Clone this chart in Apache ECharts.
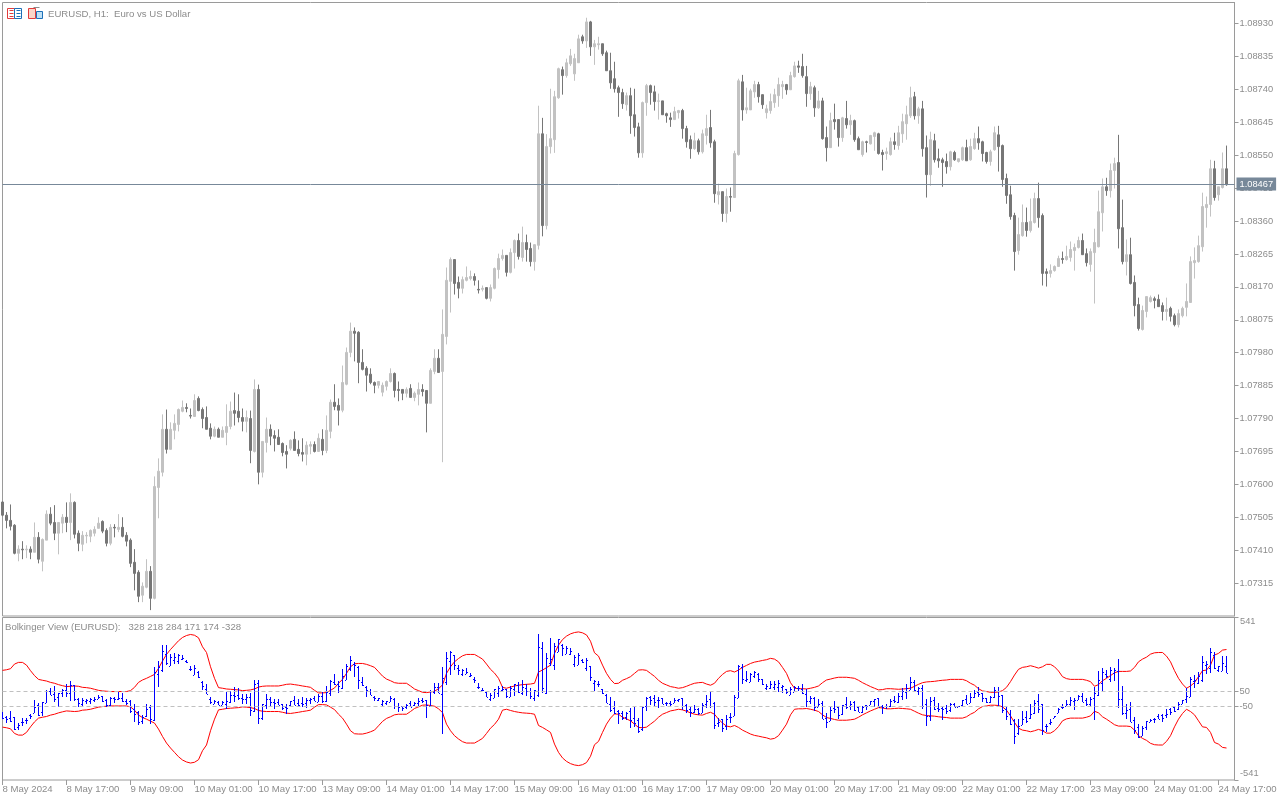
<!DOCTYPE html>
<html><head><meta charset="utf-8"><style>html,body{margin:0;padding:0;background:#fff}#c{width:1280px;height:800px}</style>
<script src="https://cdn.jsdelivr.net/npm/echarts@6/dist/echarts.min.js"></script></head>
<body><div id="c"></div>
<script>
// Prices are stored as points: 7511 means 1.07511
const opens=[7549,7511,7496,7482,7401,7413,7411,7413,7404,7447,
7378,7439,7514,7490,7459,7488,7505,7490,7548,7459,
7427,7451,7450,7459,7473,7493,7467,7430,7476,7470,
7476,7453,7439,7375,7346,7280,7303,7349,7271,7591,
7635,7759,7701,7756,7773,7811,7822,7799,7796,7848,
7816,7793,7762,7739,7759,7736,7750,7767,7813,7811,
7793,7782,7790,7695,7874,7635,7721,7759,7741,7736,
7718,7695,7704,7730,7701,7692,7687,7710,7715,7695,
7730,7698,7753,7837,7828,7814,7889,7981,8042,8039,
7952,7935,7918,7894,7886,7866,7883,7897,7920,7874,
7874,7863,7877,7851,7860,7874,7871,7834,7926,7964,
7926,8027,8186,8249,8183,8166,8189,8194,8200,8163,
8163,8168,8137,8166,8220,8252,8261,8212,8269,8304,
8255,8298,8281,8243,8290,8612,8347,8575,8595,8716,
8797,8780,8814,8785,8817,8892,8880,8935,8863,8869,
8872,8846,8794,8771,8745,8731,8696,8722,8667,8632,
8557,8702,8751,8733,8706,8707,8670,8658,8653,8673,
8679,8627,8595,8569,8592,8560,8607,8630,8589,8436,
8445,8382,8431,8428,8552,8762,8681,8681,8733,8754,
8725,8673,8679,8702,8722,8748,8754,8739,8777,8808,
8806,8777,8728,8745,8687,8707,8601,8572,8653,8653,
8601,8656,8638,8650,8598,8552,8589,8583,8604,8612,
8558,8555,8552,8589,8578,8612,8641,8664,8719,8664,
8684,8572,8494,8592,8540,8537,8532,8517,8558,8532,
8537,8572,8537,8569,8598,8589,8558,8532,8566,8609,
8578,8483,8436,8376,8275,8318,8356,8333,8356,8425,
8376,8214,8209,8217,8229,8252,8249,8255,8275,8284,
8304,8266,8235,8269,8286,8384,8459,8448,8506,8529,
8341,8243,8263,8183,8119,8047,8099,8128,8136,8134,
8116,8099,8108,8087,8061,8087,8111,8125,8240,8243,
8286,8399,8408,8511,8436,8457,8511];
const highs=[7551,7520,7542,7485,7424,7436,7424,7421,7490,7462,
7444,7525,7534,7540,7490,7514,7548,7574,7551,7467,
7465,7462,7470,7479,7505,7496,7473,7485,7485,7514,
7505,7462,7444,7413,7352,7317,7384,7364,7623,7675,
7802,7816,7779,7802,7819,7842,7834,7819,7860,7854,
7822,7825,7776,7767,7764,7767,7831,7839,7865,7860,
7819,7813,7813,7903,7888,7724,7793,7773,7756,7759,
7721,7713,7730,7753,7727,7733,7724,7724,7724,7747,
7759,7799,7845,7889,7848,7943,7995,8067,8053,8042,
7990,7941,7935,7897,7897,7894,7900,7935,7923,7897,
7874,7880,7889,7868,7894,7889,7871,7935,7990,7990,
8105,8226,8255,8249,8200,8200,8229,8217,8209,8189,
8174,8168,8177,8226,8266,8278,8261,8281,8307,8324,
8344,8321,8298,8292,8693,8658,8611,8742,8736,8803,
8806,8829,8857,8843,8898,8898,8947,8938,8883,8892,
8872,8852,8846,8820,8751,8742,8731,8745,8742,8644,
8705,8756,8754,8751,8728,8707,8673,8673,8690,8681,
8684,8635,8607,8615,8598,8624,8667,8681,8595,8468,
8445,8454,8457,8563,8771,8782,8745,8742,8765,8762,
8725,8696,8728,8742,8774,8765,8756,8791,8820,8823,
8843,8808,8762,8751,8736,8716,8633,8673,8699,8653,
8661,8707,8667,8653,8604,8592,8592,8609,8618,8615,
8566,8572,8601,8615,8635,8670,8693,8748,8733,8690,
8707,8607,8618,8612,8569,8543,8555,8563,8563,8540,
8575,8595,8598,8615,8633,8592,8560,8566,8633,8635,
8581,8497,8462,8384,8370,8408,8399,8425,8442,8471,
8382,8223,8235,8232,8260,8272,8289,8301,8295,8315,
8324,8281,8281,8338,8448,8483,8485,8526,8543,8609,
8422,8307,8312,8203,8139,8116,8142,8145,8142,8148,
8125,8139,8113,8093,8105,8113,8180,8258,8284,8318,
8442,8431,8537,8534,8459,8558,8578];
const lows=[7508,7473,7467,7398,7378,7384,7387,7384,7404,7372,
7349,7439,7482,7439,7398,7459,7462,7439,7444,7407,
7407,7430,7433,7450,7473,7459,7421,7424,7447,7462,
7447,7421,7361,7294,7260,7260,7300,7237,7268,7502,
7623,7689,7701,7730,7753,7808,7808,7790,7796,7811,
7762,7759,7730,7736,7736,7736,7713,7759,7770,7779,
7753,7750,7661,7692,7600,7620,7692,7713,7695,7715,
7681,7646,7698,7698,7681,7666,7655,7687,7692,7695,
7684,7690,7733,7814,7770,7808,7886,7967,7955,7892,
7929,7868,7889,7863,7877,7854,7871,7894,7851,7840,
7843,7851,7851,7840,7828,7854,7750,7834,7918,7923,
7664,8004,8096,8148,8137,8151,8186,8189,8174,8151,
8157,8134,8128,8163,8194,8246,8200,8209,8223,8249,
8243,8243,8229,8217,8278,8316,8336,8555,8557,8713,
8725,8774,8808,8765,8817,8872,8860,8837,8811,8855,
8837,8794,8742,8731,8661,8684,8679,8612,8604,8543,
8543,8664,8696,8679,8653,8667,8644,8632,8653,8656,
8598,8572,8540,8566,8552,8555,8581,8572,8413,8408,
8358,8356,8387,8428,8549,8650,8670,8681,8716,8702,
8684,8656,8670,8687,8690,8713,8725,8739,8774,8788,
8774,8690,8710,8661,8684,8595,8532,8572,8624,8575,
8589,8627,8609,8589,8566,8546,8558,8581,8563,8552,
8506,8537,8549,8566,8566,8586,8595,8658,8653,8641,
8546,8428,8462,8529,8514,8459,8497,8506,8534,8529,
8534,8534,8534,8566,8566,8532,8526,8520,8563,8503,
8459,8410,8364,8217,8263,8315,8315,8327,8353,8341,
8174,8171,8197,8214,8229,8237,8246,8243,8217,8281,
8263,8229,8214,8122,8284,8330,8433,8428,8454,8281,
8235,8203,8177,8085,8044,8044,8082,8125,8108,8113,
8073,8073,8070,8056,8053,8082,8085,8125,8194,8240,
8272,8341,8373,8419,8419,8454,8462];
const closes=[7511,7496,7479,7401,7413,7411,7413,7404,7447,7384,
7441,7514,7488,7459,7490,7505,7490,7548,7456,7430,
7453,7453,7467,7470,7488,7465,7430,7476,7474,7476,
7450,7436,7372,7343,7277,7306,7349,7271,7594,7638,
7759,7701,7759,7776,7816,7822,7819,7797,7842,7813,
7790,7759,7739,7759,7736,7756,7767,7811,7805,7793,
7782,7793,7698,7874,7635,7724,7759,7739,7733,7715,
7692,7687,7727,7698,7689,7687,7713,7715,7695,7733,
7698,7756,7837,7825,7814,7894,7981,8042,8036,7952,
7932,7915,7894,7886,7897,7886,7897,7920,7871,7871,
7863,7874,7851,7863,7874,7868,7834,7929,7964,7923,
8033,8189,8249,8180,8166,8191,8197,8200,8189,8161,
8166,8137,8168,8223,8252,8261,8212,8269,8304,8258,
8298,8278,8243,8292,8612,8347,8575,8598,8719,8800,
8780,8817,8837,8829,8886,8880,8935,8863,8872,8872,
8843,8794,8759,8742,8731,8699,8722,8664,8630,8557,
8702,8751,8731,8705,8707,8667,8664,8653,8676,8679,
8627,8589,8569,8592,8560,8612,8627,8586,8439,8445,
8382,8431,8429,8555,8765,8681,8687,8736,8754,8719,
8696,8684,8705,8725,8754,8754,8739,8780,8808,8804,
8780,8728,8748,8687,8707,8598,8572,8650,8647,8601,
8658,8638,8650,8595,8566,8589,8587,8607,8615,8555,
8552,8560,8589,8581,8615,8647,8667,8716,8664,8684,
8569,8494,8595,8537,8534,8529,8517,8560,8537,8540,
8572,8534,8575,8598,8586,8555,8532,8560,8615,8575,
8480,8434,8373,8272,8321,8356,8333,8359,8425,8370,
8209,8209,8217,8229,8252,8249,8258,8278,8284,8304,
8263,8240,8272,8298,8387,8459,8448,8506,8526,8338,
8243,8263,8180,8116,8050,8102,8142,8139,8131,8113,
8099,8105,8085,8061,8093,8108,8128,8243,8246,8289,
8402,8408,8511,8428,8459,8511,8465];
const viewOpen=[-91,-121,-128,-122,-187,-154,-142,-107,-96,-43,
-87,-26,54,32,9,38,56,36,90,0,
-34,-13,-18,-11,-4,15,-6,-42,3,-2,
8,-12,-14,-71,-89,-146,-116,-57,-143,167,
192,298,221,256,250,263,249,197,161,177,
113,63,0,-34,-20,-43,-33,-20,24,24,
8,-1,14,-83,108,-127,-41,-3,-19,-23,
-37,-54,-40,-7,-29,-31,-31,-9,8,-19,
18,-14,35,113,97,69,125,196,234,214,
110,80,51,14,-5,-37,-30,-21,-1,-51,
-49,-53,-26,-40,-26,-8,-6,-45,42,78,
30,112,249,291,206,167,168,150,134,78,
58,43,-4,8,40,57,64,14,63,91,
35,73,53,8,25,335,41,240,227,312,
358,301,297,233,223,259,203,217,106,95,
65,24,-38,-63,-84,-93,-122,-84,-126,-139,
-202,-45,13,6,-10,3,-25,-30,-31,-7,
3,-40,-65,-89,-66,-92,-37,-4,-27,-163,
-135,-182,-119,-113,5,211,124,113,154,164,
130,74,72,76,75,76,62,23,45,73,
64,33,-17,4,-53,-26,-125,-150,-64,-54,
-99,-38,-47,-21,-57,-90,-44,-40,-15,3,
-47,-50,-49,-7,-19,16,43,61,112,49,
70,-36,-113,-10,-60,-62,-64,-77,-33,-54,
-44,0,-26,11,46,38,5,-19,10,50,
22,-67,-102,-144,-230,-173,-122,-130,-96,-12,
-38,-179,-161,-127,-94,-55,-46,-34,-15,-5,
21,-10,-36,7,23,104,163,133,171,188,
1,-98,-71,-140,-187,-248,-190,-152,-133,-116,
-110,-105,-67,-57,-67,-32,1,11,117,104,
127,222,207,290,192,185,218];
const viewHigh=[-89,-112,-82,-119,-164,-131,-129,-99,-10,-28,
-21,60,74,82,40,64,99,120,93,8,
4,-2,2,9,28,18,0,13,12,42,
37,-3,-9,-33,-83,-109,-35,-42,209,251,
359,355,299,302,296,294,261,217,225,183,
119,95,14,-6,-15,-12,48,52,76,73,
34,30,37,125,122,-38,31,11,-4,0,
-34,-36,-14,16,-3,10,6,5,17,33,
47,87,127,165,117,198,231,282,245,217,
148,86,68,17,6,-9,-13,17,2,-28,
-49,-36,-14,-23,8,7,-6,56,106,104,
209,311,318,291,223,201,208,173,143,104,
69,43,36,68,86,83,64,83,101,111,
124,96,70,57,428,381,305,407,368,399,
367,350,340,291,304,265,270,220,126,118,
65,30,14,-14,-78,-82,-87,-61,-51,-127,
-54,9,16,24,12,3,-22,-15,6,1,
8,-32,-53,-43,-60,-28,23,47,-21,-131,
-135,-110,-93,22,224,231,188,174,186,172,
130,97,121,116,127,93,64,75,88,88,
101,64,17,10,-4,-17,-93,-49,-18,-54,
-39,13,-18,-18,-51,-50,-41,-14,-1,6,
-39,-33,0,19,38,74,95,145,126,75,
93,-1,11,10,-31,-56,-41,-31,-28,-46,
-6,23,35,57,81,41,7,15,77,76,
25,-53,-76,-136,-135,-83,-79,-38,-10,34,
-32,-170,-135,-112,-63,-35,-6,12,5,26,
41,5,10,76,185,203,189,211,208,268,
82,-34,-22,-120,-167,-179,-147,-135,-127,-102,
-101,-65,-62,-51,-23,-6,70,144,161,179,
283,254,336,313,215,286,284];
const viewLow=[-132,-159,-157,-206,-210,-183,-166,-136,-96,-118,
-116,-26,22,-19,-52,9,13,-15,-14,-52,
-54,-34,-35,-20,-4,-19,-52,-48,-26,-10,
-21,-44,-92,-152,-175,-166,-119,-169,-146,78,
180,228,221,230,230,260,235,188,161,140,
59,29,-32,-37,-43,-43,-70,-28,-19,-8,
-32,-33,-115,-86,-166,-142,-70,-49,-65,-44,
-74,-103,-46,-39,-49,-57,-63,-32,-15,-19,
-28,-22,15,90,39,63,122,182,147,67,
87,13,22,-17,-14,-49,-42,-24,-70,-85,
-80,-65,-52,-51,-58,-28,-127,-45,34,37,
-232,89,159,190,160,152,165,145,108,66,
52,9,-13,5,14,51,3,11,17,36,
23,18,1,-18,13,39,30,220,189,309,
286,295,291,213,223,239,183,119,54,81,
30,-28,-90,-103,-168,-140,-139,-194,-189,-228,
-216,-83,-42,-48,-63,-37,-51,-56,-31,-24,
-78,-95,-120,-92,-106,-97,-63,-62,-203,-191,
-222,-208,-163,-113,2,99,113,113,137,112,
89,57,63,61,43,41,33,23,42,53,
32,-54,-35,-80,-56,-138,-194,-150,-93,-132,
-111,-67,-76,-82,-89,-96,-75,-42,-56,-57,
-99,-68,-52,-30,-31,-10,-3,55,46,26,
-68,-180,-145,-73,-86,-140,-99,-88,-57,-57,
-47,-38,-29,8,14,-19,-27,-31,7,-56,
-97,-140,-174,-303,-242,-176,-163,-136,-99,-96,
-240,-222,-173,-130,-94,-70,-49,-46,-73,-8,
-20,-47,-57,-140,21,50,137,113,119,-60,
-105,-138,-157,-238,-262,-251,-207,-155,-161,-137,
-153,-131,-105,-88,-75,-37,-25,11,71,101,
113,164,172,198,175,182,171];
const viewClose=[-129,-136,-145,-203,-175,-156,-140,-116,-53,-106,
-24,49,28,1,40,55,41,94,-2,-29,
-8,-11,-1,0,11,-13,-43,4,1,4,
-18,-29,-81,-103,-158,-120,-70,-135,180,214,
316,240,279,276,293,274,246,195,207,142,
87,29,-23,-14,-43,-23,-16,24,16,6,
-3,10,-78,96,-131,-38,-3,-23,-27,-44,
-63,-62,-17,-39,-41,-36,-5,-4,-12,19,
-14,44,119,101,83,149,217,257,228,127,
90,60,27,6,6,-17,-16,2,-50,-54,
-60,-42,-52,-28,-12,-14,-43,50,80,37,
137,274,312,222,189,192,176,156,123,76,
61,12,27,65,72,66,15,71,98,45,
78,53,15,57,347,70,269,263,351,396,
341,338,320,277,292,247,258,145,115,98,
36,-28,-73,-92,-98,-125,-96,-142,-163,-214,
-57,4,-7,-22,-9,-37,-31,-35,-8,-1,
-49,-78,-91,-66,-98,-40,-17,-48,-177,-154,
-198,-133,-121,14,218,130,130,168,175,129,
101,85,98,99,107,82,47,64,76,69,
38,-16,3,-54,-33,-135,-154,-72,-70,-106,
-42,-56,-35,-76,-89,-53,-46,-16,-4,-54,
-53,-45,-12,-15,18,51,69,113,57,69,
-45,-114,-12,-65,-66,-70,-79,-34,-54,-46,
-9,-38,12,40,34,4,-21,9,59,16,
-76,-116,-165,-248,-184,-135,-145,-104,-27,-67,
-205,-184,-153,-115,-71,-58,-37,-11,-6,15,
-20,-36,1,36,124,179,152,191,191,-3,
-97,-78,-154,-207,-256,-193,-147,-141,-138,-137,
-127,-99,-90,-83,-35,-11,18,129,123,150,
243,231,310,207,215,239,174];
const bandUpper=[189,193,200,231,242,242,224,187,154,129,
123,118,109,103,94,87,81,83,85,83,
76,74,70,63,56,52,50,48,48,48,
48,48,54,76,109,125,136,149,162,202,
251,295,328,357,386,408,421,428,423,406,
346,308,213,136,74,70,65,63,61,59,
54,56,59,65,78,83,85,85,85,85,
90,96,98,94,90,85,81,76,56,39,
39,41,56,72,103,129,169,213,233,235,
235,229,220,209,180,151,131,120,107,103,
103,103,85,65,54,43,41,45,50,67,
92,169,213,246,268,286,295,295,295,280,
264,231,196,171,136,76,70,78,85,90,
94,96,98,103,178,191,207,224,302,357,
394,417,432,441,445,439,425,383,306,284,
224,169,129,101,103,123,134,147,169,191,
193,189,169,149,123,103,92,81,76,70,
74,83,94,103,107,109,98,90,103,136,
162,182,187,178,191,209,222,235,244,249,
255,260,269,264,246,209,169,107,70,67,
67,65,70,76,85,107,125,131,138,143,
143,143,140,136,123,107,94,81,70,59,
61,67,67,65,63,65,67,70,83,96,
107,112,114,116,120,123,125,129,129,129,
129,120,103,90,67,52,48,43,43,45,
54,76,114,158,196,209,213,220,213,204,
213,229,229,213,185,147,134,129,129,129,
129,123,114,83,94,120,136,154,173,182,
182,182,185,209,246,264,277,297,306,308,
308,284,246,187,136,98,70,85,107,147,
187,191,224,291,302,324,328];
const bandLower=[-189,-193,-200,-231,-242,-242,-224,-187,-154,-129,
-123,-118,-109,-103,-94,-87,-81,-83,-85,-83,
-76,-74,-70,-63,-56,-52,-50,-48,-48,-48,
-48,-48,-54,-76,-109,-125,-136,-149,-162,-202,
-251,-295,-328,-357,-386,-408,-421,-428,-423,-406,
-346,-308,-213,-136,-74,-70,-65,-63,-61,-59,
-54,-56,-59,-65,-78,-83,-85,-85,-85,-85,
-90,-96,-98,-94,-90,-85,-81,-76,-56,-39,
-39,-41,-56,-72,-103,-129,-169,-213,-233,-235,
-235,-229,-220,-209,-180,-151,-131,-120,-107,-103,
-103,-103,-85,-65,-54,-43,-41,-45,-50,-67,
-92,-169,-213,-246,-268,-286,-295,-295,-295,-280,
-264,-231,-196,-171,-136,-76,-70,-78,-85,-90,
-94,-96,-98,-103,-178,-191,-207,-224,-302,-357,
-394,-417,-432,-441,-445,-439,-425,-383,-306,-284,
-224,-169,-129,-101,-103,-123,-134,-147,-169,-191,
-193,-189,-169,-149,-123,-103,-92,-81,-76,-70,
-74,-83,-94,-103,-107,-109,-98,-90,-103,-136,
-162,-182,-187,-178,-191,-209,-222,-235,-244,-249,
-255,-260,-269,-264,-246,-209,-169,-107,-70,-67,
-67,-65,-70,-76,-85,-107,-125,-131,-138,-143,
-143,-143,-140,-136,-123,-107,-94,-81,-70,-59,
-61,-67,-67,-65,-63,-65,-67,-70,-83,-96,
-107,-112,-114,-116,-120,-123,-125,-129,-129,-129,
-129,-120,-103,-90,-67,-52,-48,-43,-43,-45,
-54,-76,-114,-158,-196,-209,-213,-220,-213,-204,
-213,-229,-229,-213,-185,-147,-134,-129,-129,-129,
-129,-123,-114,-83,-94,-120,-136,-154,-173,-182,
-182,-182,-185,-209,-246,-264,-277,-297,-306,-308,
-308,-284,-246,-187,-136,-98,-70,-85,-107,-147,
-187,-191,-224,-291,-302,-324,-328];
const timeTicks=['8 May 2024','8 May 17:00','9 May 09:00','10 May 01:00','10 May 17:00','13 May 09:00','14 May 01:00','14 May 17:00','15 May 09:00','16 May 01:00','16 May 17:00','17 May 09:00','20 May 01:00','20 May 17:00','21 May 09:00','22 May 01:00','22 May 17:00','23 May 09:00','24 May 01:00','24 May 17:00'];
const currentPrice=8467;
const viewTicks=[-541,-50,50,541];
const viewLabels=[-50,50];
const titleText='EURUSD, H1:  Euro vs US Dollar';
const viewText='Bolkinger View (EURUSD):   328 218 284 171 174 -328';

const FONT='"Liberation Sans"', GREY='#8c8c8c', FRAME='#9a9a9a', FS=9.6, FY=9.3;
const cats=[];
for(let i=0;i<309;i++) cats.push(i%16===0?timeTicks[i/16]:'');
const fmt=v=>(1+v/1e5).toFixed(5);
const icon=(x,y,w,h,stroke,fill)=>({type:'rect',silent:true,shape:{x:x+.5,y:y+.5,width:w,height:h},style:{stroke,fill,lineWidth:1}});
const bar=(x,y1,x2,y2,stroke)=>({type:'line',silent:true,shape:{x1:x+.5,y1:y1+.5,x2:x2+.5,y2:y2+.5},style:{stroke,lineWidth:1}});

const chart=echarts.init(document.getElementById('c'),null,{renderer:'canvas'});
chart.setOption({
 animation:false,
 backgroundColor:'#fff',
 grid:[
  {left:2.5,top:2.5,width:1232,height:613.5,show:true,borderColor:FRAME,borderWidth:1,backgroundColor:'transparent',outerBoundsMode:'none'},
  {left:2.5,top:617.5,width:1232,height:162.5,show:true,borderColor:FRAME,borderWidth:1,backgroundColor:'transparent',outerBoundsMode:'none'}
 ],
 xAxis:[
  {type:'category',gridIndex:0,data:cats,boundaryGap:false,axisLine:{show:false,onZero:false},axisTick:{show:false},axisLabel:{show:false},splitLine:{show:false}},
  {type:'category',gridIndex:1,position:'bottom',data:cats,boundaryGap:false,axisLine:{show:false,onZero:false},
   axisTick:{show:true,interval:15,length:5,lineStyle:{color:FRAME}},
   axisLabel:{show:true,interval:15,align:'left',margin:4,color:GREY,fontFamily:FONT,fontSize:FS,hideOverlap:false},splitLine:{show:false}}
 ],
 yAxis:[
  {type:'value',gridIndex:0,position:'right',min:7220,max:8991,interval:95,scale:true,
   axisLine:{show:true,lineStyle:{color:FRAME}},axisTick:{show:true,length:4,lineStyle:{color:FRAME}},
   axisLabel:{show:true,margin:5,color:GREY,fontFamily:FONT,fontSize:FY,formatter:fmt,showMinLabel:false,showMaxLabel:false},splitLine:{show:false}},
  {type:'value',gridIndex:1,position:'right',min:-541,max:541,
   axisLine:{show:true,lineStyle:{color:FRAME}},axisTick:{show:true,length:4,customValues:viewTicks,lineStyle:{color:FRAME}},
   axisLabel:{show:true,margin:5,color:GREY,fontFamily:FONT,fontSize:FY,customValues:viewLabels},splitLine:{show:false}}
 ],
 series:[
  {type:'candlestick',xAxisIndex:0,yAxisIndex:0,barWidth:2,
   data:opens.map((o,i)=>[o,closes[i],lows[i],highs[i]]),
   itemStyle:{color:'#c2c2c2',color0:'#767676',borderColor:'#c2c2c2',borderColor0:'#767676',borderWidth:1},
   markLine:{silent:true,symbol:'none',animation:false,
    lineStyle:{color:'#778899',type:'solid',width:1},
    label:{show:true,position:'end',distance:2,formatter:()=>fmt(currentPrice),backgroundColor:'#778899',color:'#fff',fontFamily:FONT,fontSize:FY,padding:[2,3,2,3]},
    data:[{yAxis:currentPrice}]}},
  {type:'line',xAxisIndex:1,yAxisIndex:1,data:bandUpper,symbol:'none',lineStyle:{color:'#ff0000',width:1},itemStyle:{color:'#ff0000'},z:3,
   markLine:{silent:true,symbol:'none',animation:false,label:{show:false},lineStyle:{color:'#c0c0c0',type:[4,3],width:1},data:[{yAxis:50},{yAxis:-50}]}},
  {type:'line',xAxisIndex:1,yAxisIndex:1,data:bandLower,symbol:'none',lineStyle:{color:'#ff0000',width:1},itemStyle:{color:'#ff0000'},z:3},
  {type:'custom',xAxisIndex:1,yAxisIndex:1,z:4,clip:true,
   data:viewOpen.map((o,i)=>[i,o,viewHigh[i],viewLow[i],viewClose[i]]),
   encode:{x:0,y:[1,2,3,4]},
   renderItem:(p,api)=>{
    const i=api.value(0), x=Math.floor(api.coord([i,0])[0]);
    const Y=v=>Math.round(api.coord([i,api.value(v)])[1]);
    const yO=Y(1),yH=Y(2),yL=Y(3),yC=Y(4);
    const s={fill:'#0000ff'};
    return {type:'group',children:[
     {type:'rect',shape:{x:x,y:yH,width:1,height:Math.max(1,yL-yH)},style:s},
     {type:'rect',shape:{x:x-1,y:yO,width:1,height:1},style:s},
     {type:'rect',shape:{x:x+1,y:yC,width:1,height:1},style:s}
    ]};
   }}
 ],
 graphic:[
  icon(7,8,7,10,'#e23b3b','#fff'),icon(14,8,7,10,'#1c6fb8','#fff'),
  bar(9,10,13,10,'#e23b3b'),bar(9,13,13,13,'#e23b3b'),bar(9,16,13,16,'#e23b3b'),
  bar(16,10,20,10,'#1c6fb8'),bar(16,13,20,13,'#1c6fb8'),bar(16,16,20,16,'#1c6fb8'),
  icon(28,8,7,10,'#e23b3b','#fcd5c8'),icon(36,11,6,7,'#1c6fb8','#bfe0f5'),bar(33,7,39,7,'#8c8c8c'),
  {type:'text',silent:true,left:48,top:9,style:{text:titleText,fill:GREY,font:FS+'px '+FONT}},
  {type:'text',silent:true,left:5,top:622,style:{text:viewText,fill:GREY,font:FS+'px '+FONT}},
  {type:'text',silent:true,left:1240,top:617,style:{text:'541',fill:GREY,font:FY+'px '+FONT}},
  {type:'text',silent:true,left:1240,top:769,style:{text:'-541',fill:GREY,font:FY+'px '+FONT}}
 ]
});
</script></body></html>
